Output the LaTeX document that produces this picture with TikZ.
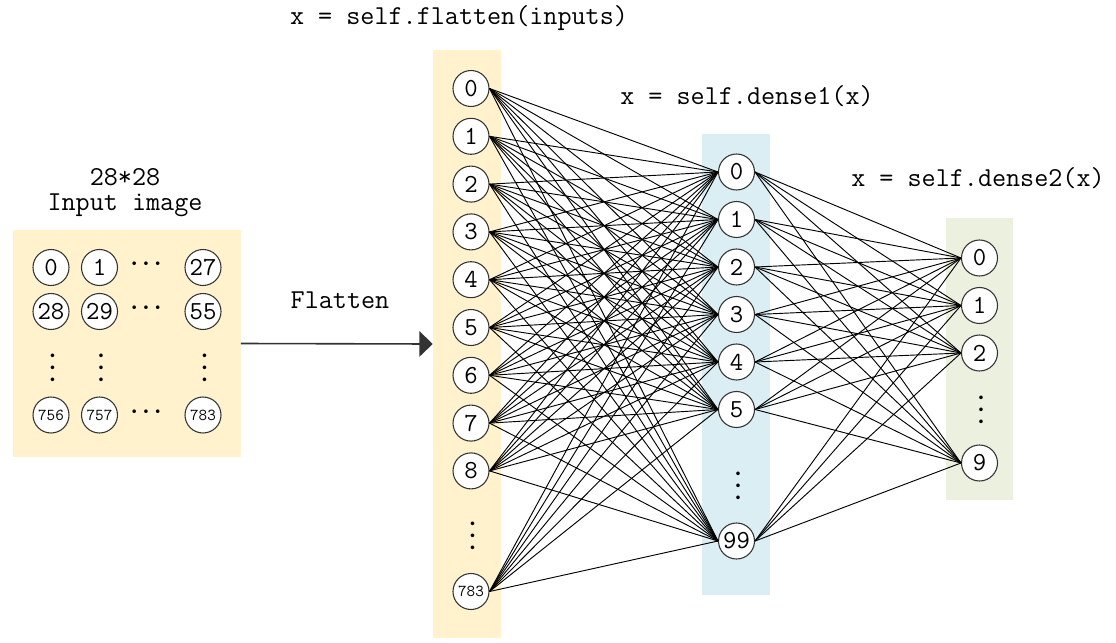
\documentclass[tikz,border=0pt]{standalone}
\usepackage{fontspec}
\usepackage{tikz}
\usetikzlibrary{arrows.meta,calc}
\newfontfamily\codefont{Latin Modern Mono}
\definecolor{inputfill}{HTML}{FFF2CC}
\definecolor{hiddenfill}{HTML}{DAEEF3}
\definecolor{outputfill}{HTML}{EBF1DE}

\begin{document}
\begin{tikzpicture}[x=0.75pt,y=-0.75pt,
    neuron/.style={circle,draw=black!80,line width=0.8pt,fill=white,minimum size=27pt,inner sep=0pt,font=\codefont\fontsize{19.5}{19.5}\selectfont},
    smallneuron/.style={neuron,font=\codefont\fontsize{12.5}{12.5}\selectfont},
    layerbox/.style={inner sep=0pt,minimum width=51pt},
    code/.style={font=\codefont\fontsize{20.5}{24}\selectfont},
    hdots/.style={font=\fontsize{18}{18}\selectfont\boldmath,inner sep=0pt},
    vdots/.style={hdots,rotate=90},
    wire/.style={line width=0.7pt,black}]
    \useasboundingbox[fill=white] (0,0) rectangle (1116,642);
    % layer backgrounds
    \node[layerbox,fill=inputfill,minimum width=171pt,minimum height=170.25pt] (inbox) at (126.5,343.5) {};
    \node[layerbox,fill=inputfill,minimum height=441pt] (l1box) at (467,344) {};
    \node[layerbox,fill=hiddenfill,minimum height=345.75pt] (l2box) at (736,364.5) {};
    \node[layerbox,fill=outputfill,minimum width=50.25pt,minimum height=211.5pt] (l3box) at (979.5,359) {};
    % titles
    \node[code] (flattitle) at (459,18) {x = self.flatten(inputs)};
    \node[code] (d1title) at (747,96) {x = self.dense1(x)};
    \node[code] (d2title) at (978,178) {x = self.dense2(x)};
    \node[code] (insize) at (125,177) {28*28};
    \node[code] (inlabel) at (125,205) {Input image};
    \node[code] (flatlabel) at (340,300) {Flatten};
    % input image grid
    \foreach \n/\x/\y in {0/51/267.5,1/99.5/267.5,27/203/267.5,28/51/311.5,29/99.5/311.5,55/203/311.5}
        \node[neuron] (g\n) at (\x,\y) {\n};
    \foreach \n/\x in {756/51,757/99.5,783/203}
        \node[smallneuron] (g\n) at (\x,415) {\n};
    \foreach \x/\y in {146/267.5,146/311.5,146/415}
        \node[hdots] at (\x,\y-3) {$\cdots$};
    \foreach \x in {51,99.5,203}
        \node[vdots] at (\x+2,368) {$\cdots$};
    \draw[-{Triangle[length=10pt,width=19pt]},line width=1.2pt,black!80] (inbox.east) -- (l1box.west);
    % flatten layer
    \foreach \n/\y in {0/88.5,1/136.3,2/184.1,3/231.9,4/279.7,5/327.5,6/375.3,7/423.1,8/470.9}
        \node[neuron] (a\n) at (471,\y) {\n};
    \node[vdots] (adots) at (473,536) {$\cdots$};
    \node[smallneuron] (a783) at (471,591.5) {783};
    % dense1
    \foreach \n/\y in {0/172,1/219.5,2/267,3/314.5,4/362,5/409.5}
        \node[neuron] (b\n) at (736.5,\y) {\n};
    \node[vdots] (bdots) at (738.5,486) {$\cdots$};
    \node[neuron] (b99) at (736.5,541) {99};
    % dense2
    \foreach \n/\y in {0/258,1/305.5,2/353,9/463}
        \node[neuron] (c\n) at (979.5,\y) {\n};
    \node[vdots] (cdots) at (981.5,410) {$\cdots$};
    % connections
    \foreach \i in {0,1,2,3,4,5,6,7,8,783}
        \foreach \j in {0,1,2,3,4,5,99}
            \draw[wire] (a\i.east) -- (b\j.west);
    \foreach \i in {0,1,2,3,4,5,99}
        \foreach \j in {0,1,2,9}
            \draw[wire] (b\i.east) -- (c\j.west);
\end{tikzpicture}
\end{document}
